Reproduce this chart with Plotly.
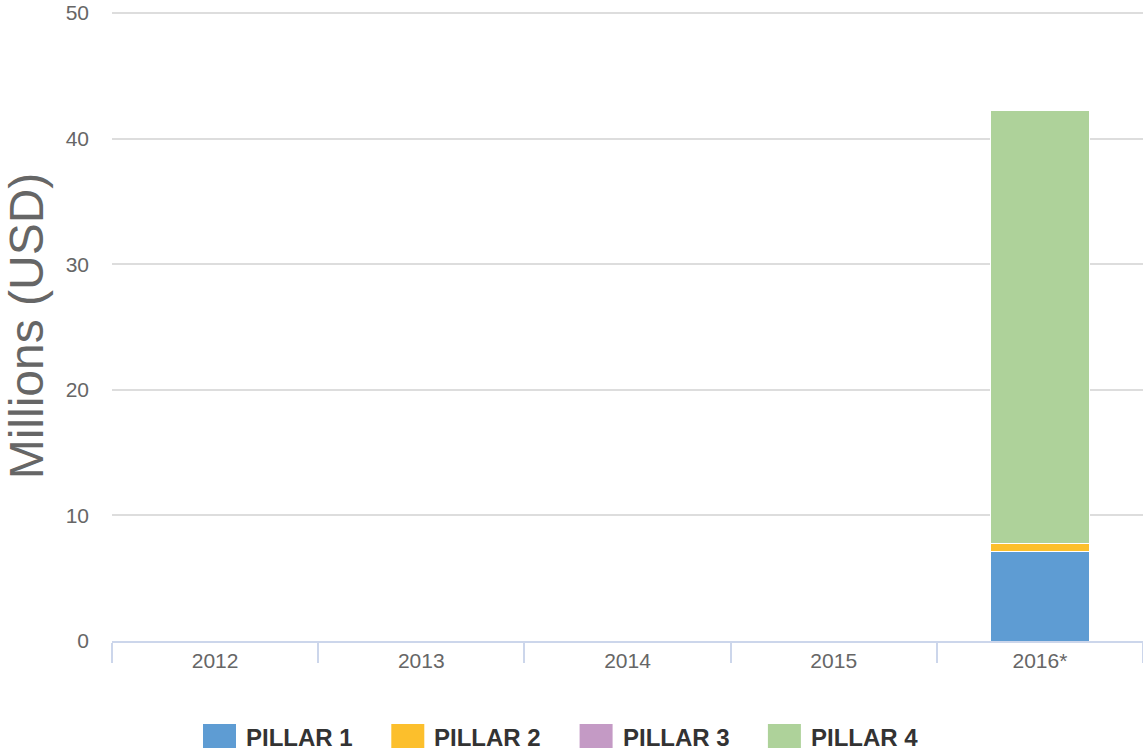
import plotly.graph_objects as go

categories = ["2012", "2013", "2014", "2015", "2016*"]
pillar1 = [0, 0, 0, 0, 7.1]
pillar2 = [0, 0, 0, 0, 0.65]
pillar3 = [0, 0, 0, 0, 0]
pillar4 = [0, 0, 0, 0, 34.45]
series_names = ["PILLAR 1", "PILLAR 2", "PILLAR 3", "PILLAR 4"]
colors = ["#5e9cd3", "#fcbf2c", "#c49ac5", "#aed29a"]
y_top = 50.16  # a hair above 50 so the 50 gridline is drawn

W, H = 1143, 755
ML, MR, MT, MB = 112, 0, 11, 114
PW, PH = W - ML - MR, H - MT - MB

fig = go.Figure()
for name, vals, c in zip(series_names, [pillar1, pillar2, pillar3, pillar4], colors):
    fig.add_trace(go.Bar(
        x=categories, y=vals, name=name,
        marker=dict(color=c, line=dict(color="#ffffff", width=1)),
        showlegend=False,
    ))

# custom legend (large square swatches, bold labels); positions in page pixels
def px_x(p):
    return (p - ML) / PW

def px_y(p):
    return (H - MB - p) / PH

shapes = []
annotations = []
start, step = 203, 188.3
for i, (name, c) in enumerate(zip(series_names, colors)):
    x0 = start + i * step
    shapes.append(dict(type="rect", xref="paper", yref="paper",
                       x0=px_x(x0), x1=px_x(x0 + 33), y0=px_y(748), y1=px_y(724),
                       fillcolor=c, line=dict(width=0)))
    annotations.append(dict(xref="paper", yref="paper", x=px_x(x0 + 41), y=px_y(738),
                            xanchor="left", yanchor="middle", showarrow=False,
                            text="<b>%s</b>" % name,
                            font=dict(family="Liberation Sans, Arial, sans-serif", size=24, color="#333333")))

fig.update_layout(
    barmode="stack",
    bargap=0.52,
    width=W, height=H,
    margin=dict(l=ML, r=MR, t=MT, b=MB, autoexpand=False),
    paper_bgcolor="#ffffff",
    plot_bgcolor="#ffffff",
    font=dict(family="Liberation Sans, Arial, sans-serif", color="#666666"),
    showlegend=False,
    shapes=shapes,
    annotations=annotations,
    xaxis=dict(
        showline=True, linecolor="#ccd6eb", linewidth=2,
        ticks="outside", tickson="boundaries", ticklen=20, tickcolor="#ccd6eb", tickwidth=2,
        tickfont=dict(size=21, color="#666666"),
        showgrid=False, zeroline=False,
    ),
    yaxis=dict(
        range=[0, y_top], tickvals=[0, 10, 20, 30, 40, 50],
        showgrid=True, gridcolor="#dddddd", gridwidth=1.5,
        zeroline=False, showline=False,
        tickfont=dict(size=21, color="#666666"),
        ticklabelstandoff=22, ticklabeloverflow="allow",
        title=dict(text="Millions (USD)", font=dict(size=48, color="#666666"), standoff=31),
    ),
)

fig.write_html("out.html", config={"displayModeBar": False},
               post_script="document.body.style.margin='0';")
